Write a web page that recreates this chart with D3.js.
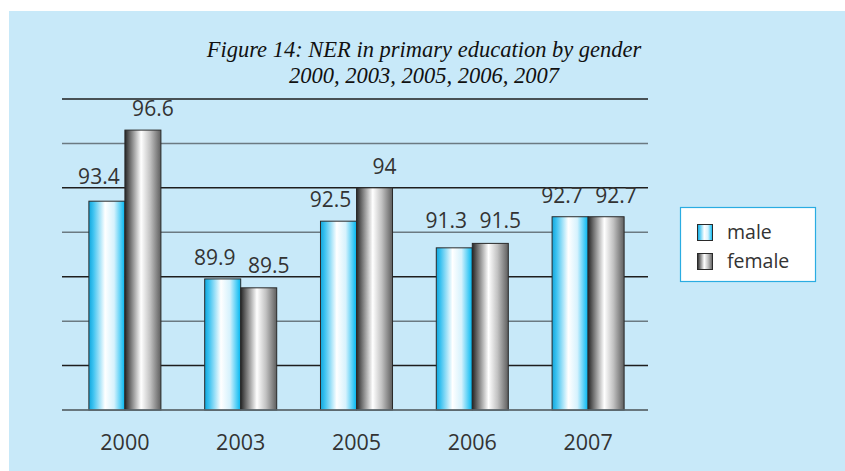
<!DOCTYPE html>
<html><head><meta charset="utf-8">
<script src="https://cdn.jsdelivr.net/npm/d3@7"></script>
<style>html,body{margin:0;padding:0;background:#fff;}svg{display:block;}</style>
</head><body>
<script>
const years = ["2000","2003","2005","2006","2007"];
const male = [93.4, 89.9, 92.5, 91.3, 92.7];
const female = [96.6, 89.5, 94, 91.5, 92.7];
const seriesNames = ["male","female"];
const yTicks = [84,86,88,90,92,94,96,98];
const titleLines = ["Figure 14: NER in primary education by gender","2000, 2003, 2005, 2006, 2007"];

const W=845,H=471;
const svg=d3.select("body").append("svg").attr("width",W).attr("height",H);
const defs=svg.append("defs");
function grad(id,stops){const g=defs.append("linearGradient").attr("id",id).attr("x1","0").attr("x2","1").attr("y1","0").attr("y2","0");
 stops.forEach(s=>g.append("stop").attr("offset",s[0]).attr("stop-color",s[1]));}
grad("gMale",[[0,"#10a6dc"],[0.12,"#3cc2f0"],[0.45,"#ffffff"],[0.7,"#d6f2fd"],[0.88,"#55cff6"],[1,"#00b6ef"]]);
grad("gFemale",[[0,"#262626"],[0.15,"#707070"],[0.45,"#ffffff"],[0.7,"#c2c2c2"],[1,"#5e5e5e"]]);

svg.append("rect").attr("x",9).attr("y",11).attr("width",W-9).attr("height",H-11).attr("fill","#c8e9f9");

const y=d3.scaleLinear().domain([84,98]).range([410,99]);
const x0=d3.scaleBand().domain(years).range([67,646]).paddingInner(0.378).paddingOuter(0.189);
const x1=d3.scaleBand().domain(seriesNames).range([0,x0.bandwidth()]);

// gridlines
svg.append("g").selectAll("line").data(yTicks).join("line")
 .attr("x1",62).attr("x2",648).attr("y1",d=>y(d)).attr("y2",d=>y(d))
 .attr("stroke",(d,i)=>i%2===0?"#6b7a82":"#1e1e1e").attr("stroke-width",1.5);

// label baseline: keep clear of gridlines
function labelY(v){
  let b=y(v)-14;
  yTicks.forEach(t=>{const gy=y(t); if(gy>b-3 && gy<b+6) b=gy-4;});
  return b;
}

const data=years.map((yr,i)=>({year:yr,vals:[{s:"male",v:male[i]},{s:"female",v:female[i]}]}));
const groups=svg.append("g").selectAll("g").data(data).join("g").attr("transform",d=>`translate(${x0(d.year)},0)`);
groups.selectAll("rect").data(d=>d.vals).join("rect")
 .attr("x",d=>x1(d.s)).attr("width",x1.bandwidth()).attr("y",d=>y(d.v)).attr("height",d=>y(84)-y(d.v))
 .attr("fill",d=>d.s==="male"?"url(#gMale)":"url(#gFemale)").attr("stroke","#2a2a2a").attr("stroke-width",1);
groups.selectAll("text").data(d=>d.vals).join("text")
 .attr("x",d=>x1(d.s)+x1.bandwidth()/2+(d.s==="male"?-8:10)).attr("y",d=>labelY(d.v))
 .attr("text-anchor","middle").attr("font-family","Open Sans").attr("font-size",21).attr("fill","#333")
 .text(d=>d.v);

// baseline
svg.append("line").attr("x1",62).attr("x2",648).attr("y1",y(84)).attr("y2",y(84)).attr("stroke","#5f6c73").attr("stroke-width",1.5);

// x axis labels
const xAxis=d3.axisBottom(x0).tickSize(0).tickPadding(0);
const gx=svg.append("g").attr("transform",`translate(0,${y(84)})`).call(xAxis);
gx.select(".domain").remove();
gx.selectAll("text").attr("font-family","Open Sans").attr("font-size",21.5).attr("fill","#333").attr("dy",0).attr("y",40);

// title
svg.append("g").selectAll("text").data(titleLines).join("text")
 .attr("x",424).attr("y",(d,i)=>57+i*26).attr("text-anchor","middle")
 .attr("font-family","Liberation Serif").attr("font-style","italic").attr("font-size",22.5).attr("fill","#111").text(d=>d);

// legend
const lg=svg.append("g");
lg.append("rect").attr("x",680.5).attr("y",207.5).attr("width",135).attr("height",74).attr("fill","#fff").attr("stroke","#2aace2").attr("stroke-width",1.2);
seriesNames.forEach((s,i)=>{
 lg.append("rect").attr("x",697.5).attr("y",224.5+i*29).attr("width",15).attr("height",16)
  .attr("fill",s==="male"?"url(#gMale)":"url(#gFemale)").attr("stroke","#2a2a2a").attr("stroke-width",1);
 lg.append("text").attr("x",727).attr("y",239+i*29).attr("font-family","Open Sans").attr("font-size",19.5).attr("fill","#333").text(s);
});
</script>
</body></html>
